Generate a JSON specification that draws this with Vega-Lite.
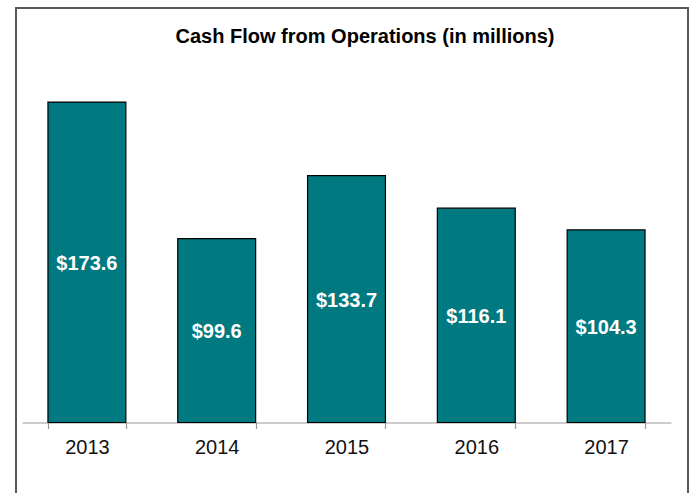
{
  "$schema": "https://vega.github.io/schema/vega-lite/v6.json",
  "width": 672,
  "height": 520,
  "autosize": {"type": "none"},
  "padding": {"left": 16, "top": 8, "right": 1, "bottom": 0},
  "background": "white",
  "title": {
    "text": "Cash Flow from Operations (in millions)",
    "font": "Liberation Sans",
    "fontSize": 20,
    "fontWeight": "bold",
    "color": "#000000",
    "anchor": "middle",
    "offset": -39,
    "dx": 13
  },
  "data": {
    "values": [
      {"year": "2013", "value": 173.6},
      {"year": "2014", "value": 99.6},
      {"year": "2015", "value": 133.7},
      {"year": "2016", "value": 116.1},
      {"year": "2017", "value": 104.3}
    ]
  },
  "encoding": {
    "x": {
      "field": "year",
      "type": "ordinal",
      "scale": {"range": [6, 655], "paddingInner": 0.4, "paddingOuter": 0.2},
      "axis": {
        "orient": "bottom",
        "offset": -105.5,
        "title": null,
        "labelAngle": 0,
        "labelFont": "Liberation Sans",
        "labelFontSize": 20,
        "labelColor": "#111111",
        "domainColor": "#999999",
        "domainWidth": 1.2,
        "tickColor": "#999999",
        "tickWidth": 1.2,
        "tickSize": 6,
        "tickBand": "extent",
        "labelPadding": 9,
        "grid": false
      }
    }
  },
  "layer": [
    {
      "mark": {"type": "bar", "fill": "#007A80", "stroke": "#000000", "strokeWidth": 1.2},
      "encoding": {
        "y": {
          "field": "value",
          "type": "quantitative",
          "scale": {"domain": [0, 200], "range": [414.5, 45.3]},
          "axis": null
        }
      }
    },
    {
      "mark": {
        "type": "text",
        "color": "white",
        "font": "Liberation Sans",
        "fontSize": 20,
        "fontWeight": "bold",
        "baseline": "middle",
        "dy": 1.5
      },
      "encoding": {
        "y": {
          "field": "value",
          "type": "quantitative",
          "scale": {"domain": [0, 400], "range": [414.5, 45.3]},
          "axis": null
        },
        "text": {"field": "value", "type": "quantitative", "format": "$.1f"}
      }
    }
  ],
  "resolve": {"scale": {"y": "independent"}},
  "config": {"view": {"stroke": "#595959", "strokeWidth": 2}}
}
